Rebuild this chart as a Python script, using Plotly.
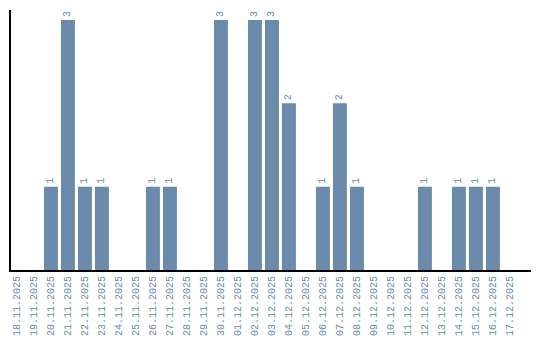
import plotly.graph_objects as go

dates = ["18.11.2025","19.11.2025","20.11.2025","21.11.2025","22.11.2025","23.11.2025",
         "24.11.2025","25.11.2025","26.11.2025","27.11.2025","28.11.2025","29.11.2025",
         "30.11.2025","01.12.2025","02.12.2025","03.12.2025","04.12.2025","05.12.2025",
         "06.12.2025","07.12.2025","08.12.2025","09.12.2025","10.12.2025","11.12.2025",
         "12.12.2025","13.12.2025","14.12.2025","15.12.2025","16.12.2025","17.12.2025"]
counts = [0,0,1,3,1,1,0,0,1,1,0,0,3,0,3,3,2,0,1,2,1,0,0,0,1,0,1,1,1,0]

color = "#6a8bab"
labels = [str(c) if c > 0 else "" for c in counts]

fig = go.Figure(go.Bar(
    x=dates, y=counts, marker_color=color, marker_line_width=0,
    text=labels, textposition="outside", textangle=-90,
    textfont=dict(family="Liberation Mono", size=10, color=color),
    cliponaxis=False,
))
fig.update_layout(
    width=540, height=340, margin=dict(l=11, r=9, t=10, b=70),
    plot_bgcolor="white", paper_bgcolor="white", bargap=0.18,
    showlegend=False,
)
fig.update_xaxes(type="category", tickangle=-90, showline=True, linecolor="black", linewidth=2,
                 ticks="", showgrid=False, range=[-0.35, 30.24], ticklabelstandoff=0,
                 automargin=False,
                 tickfont=dict(family="Liberation Mono", size=10, color=color))
fig.update_yaxes(range=[0, 3.12], showline=True, linecolor="black", linewidth=2,
                 showticklabels=False, ticks="", showgrid=False, zeroline=False,
                 automargin=False)
fig.write_html("out.html")
